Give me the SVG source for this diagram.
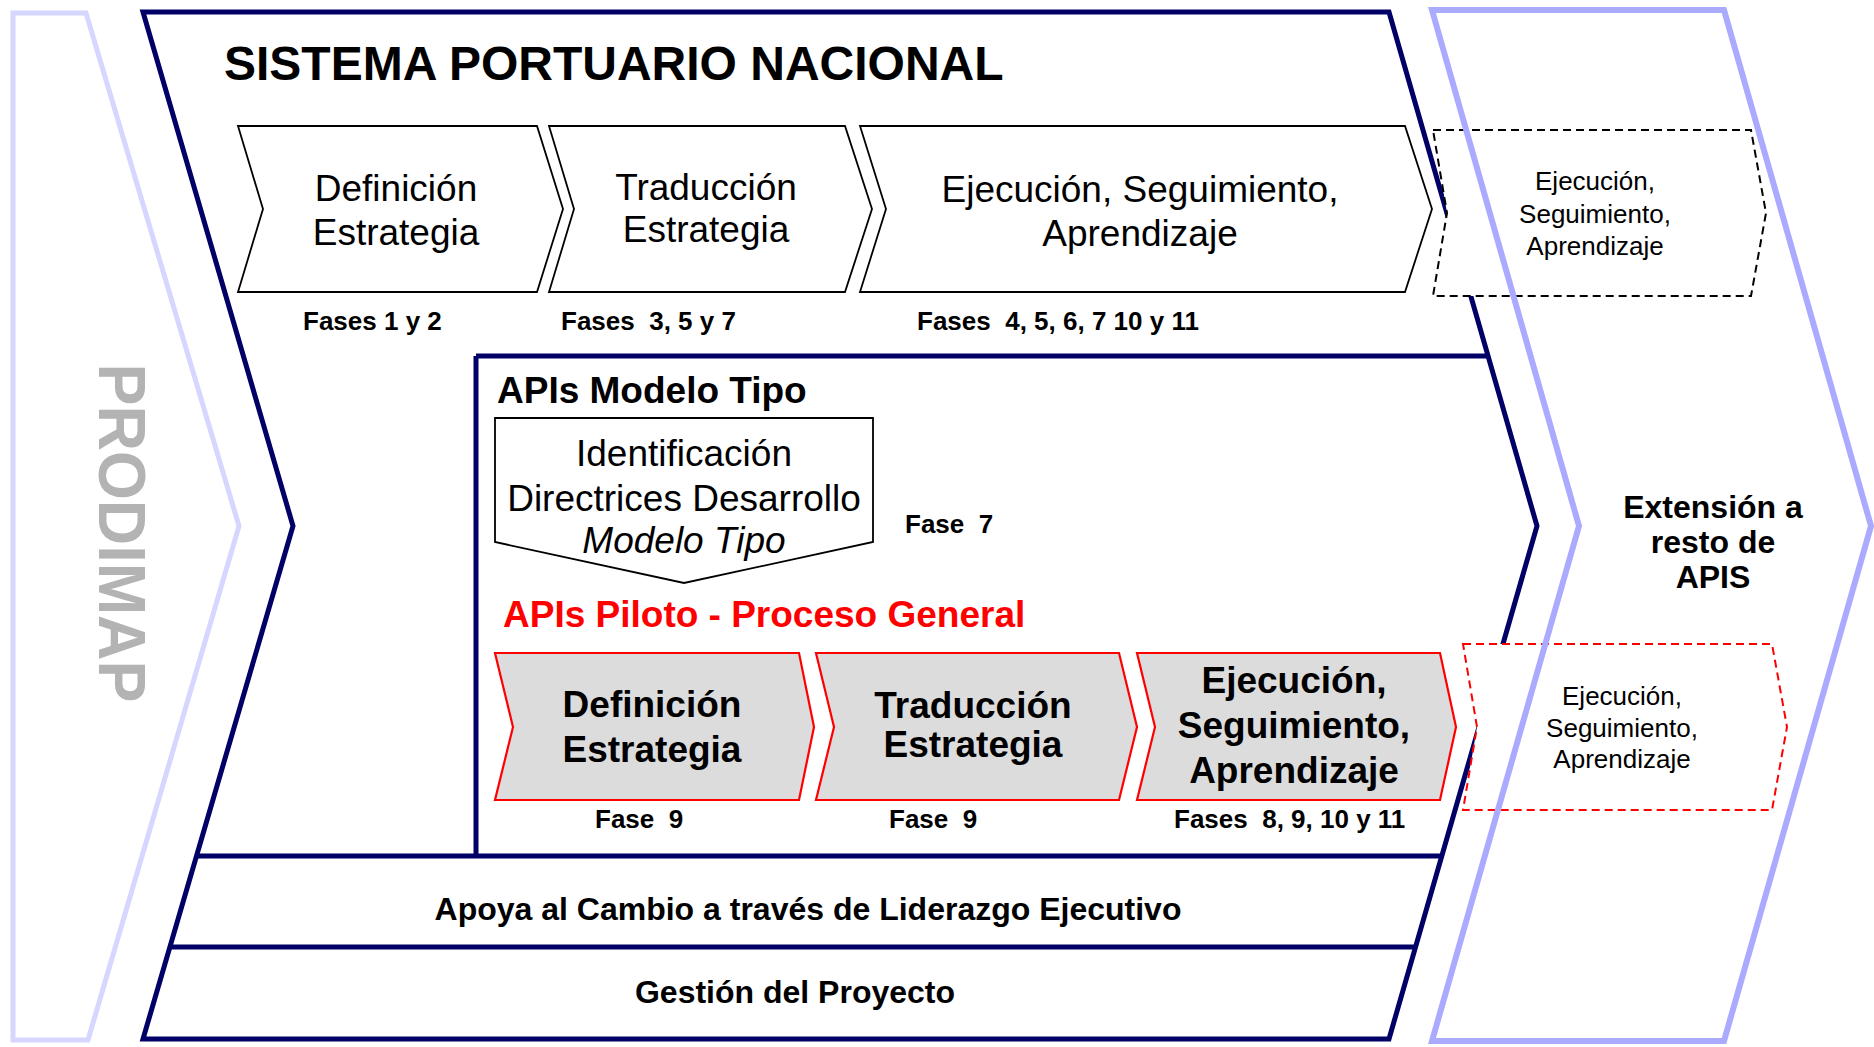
<svg xmlns="http://www.w3.org/2000/svg" width="1874" height="1047" viewBox="0 0 1874 1047">
<style>
text{font-family:"Liberation Sans",Arial,Helvetica,sans-serif;fill:#000}
.b{font-weight:bold}
.lbl{font-size:26px;font-weight:bold;white-space:pre}
.r37{font-size:37px}
.b37{font-size:37px;font-weight:bold}
.b32{font-size:32px;font-weight:bold}
.s26{font-size:26px}
.mid{text-anchor:middle}
.navy{fill:none;stroke:#000066;stroke-width:5}
.chev{fill:#fff;stroke:#000;stroke-width:1.8}
.red{fill:#dcdcdc;stroke:#ff0000;stroke-width:2.2}
.dash{fill:#fff;stroke:#000;stroke-width:2;stroke-dasharray:8 5}
.rdash{fill:#fff;stroke:#ff0000;stroke-width:2;stroke-dasharray:8 5}
</style>
<rect x="0" y="0" width="1874" height="1047" fill="#fff"/>

<g id="prodimap">
  <polygon points="13,13 86,13 239,526 88,1040 13,1040" fill="none" stroke="#d6d6ff" stroke-width="5"/>
  <text transform="translate(99,533) rotate(90)" text-anchor="middle" font-size="66" font-weight="bold" style="fill:#b3b3b3" textLength="339" lengthAdjust="spacingAndGlyphs">PRODIMAP</text>
</g>

<g id="sistema-portuario">
  <polygon class="navy" points="143,12 1389,12 1537,526 1389,1039 143,1039 293,526"/>
  <path class="navy" d="M476,356 H1488 M476,356 V856 M197,856 H1442 M170,947 H1416"/>
  <text x="224" y="80" font-size="48" class="b">SISTEMA PORTUARIO NACIONAL</text>
</g>

<g id="definicion-estrategia">
  <polygon class="chev" points="238,126 537,126 563,209 537,292 238,292 263,209"/>
  <text class="r37 mid" x="396" y="201">Definición</text>
  <text class="r37 mid" x="396" y="245">Estrategia</text>
  <text class="lbl" x="303" y="330">Fases 1 y 2</text>
</g>

<g id="traduccion-estrategia">
  <polygon class="chev" points="549,126 845,126 872,209 845,292 549,292 574,209"/>
  <text class="r37 mid" x="706" y="200">Traducción</text>
  <text class="r37 mid" x="706" y="242">Estrategia</text>
  <text class="lbl" x="561" y="330">Fases  3, 5 y 7</text>
</g>

<g id="ejecucion">
  <polygon class="chev" points="860,126 1405,126 1432,209 1405,292 860,292 886,209"/>
  <text class="r37 mid" x="1140" y="202">Ejecución, Seguimiento,</text>
  <text class="r37 mid" x="1140" y="246">Aprendizaje</text>
  <text class="lbl" x="917" y="330">Fases  4, 5, 6, 7 10 y 11</text>
</g>

<g id="apis-modelo-tipo">
  <text x="497" y="403" class="b37">APIs Modelo Tipo</text>
  <polygon class="chev" points="495,418 873,418 873,542 684,583 495,542"/>
  <text class="r37 mid" x="684" y="466">Identificación</text>
  <text class="r37 mid" x="684" y="511">Directrices Desarrollo</text>
  <text class="r37 mid" x="684" y="553" font-style="italic">Modelo Tipo</text>
  <text class="lbl" x="905" y="533">Fase  7</text>
</g>

<g id="apis-piloto">
  <text x="503" y="627" class="b37" style="fill:#ff0000">APIs Piloto - Proceso General</text>
</g>

<g id="piloto-definicion">
  <polygon class="red" points="495,653 799,653 814,727 799,800 495,800 513,727"/>
  <text class="b37 mid" x="652" y="717">Definición</text>
  <text class="b37 mid" x="652" y="762">Estrategia</text>
  <text class="lbl" x="595" y="828">Fase  9</text>
</g>

<g id="piloto-traduccion">
  <polygon class="red" points="816,653 1119,653 1137,727 1119,800 816,800 834,727"/>
  <text class="b37 mid" x="973" y="718">Traducción</text>
  <text class="b37 mid" x="973" y="757">Estrategia</text>
  <text class="lbl" x="889" y="828">Fase  9</text>
</g>

<g id="piloto-ejecucion">
  <polygon class="red" points="1137,653 1440,653 1456,727 1440,800 1137,800 1155,727"/>
  <text class="b37 mid" x="1294" y="693">Ejecución,</text>
  <text class="b37 mid" x="1294" y="738">Seguimiento,</text>
  <text class="b37 mid" x="1294" y="783">Aprendizaje</text>
  <text class="lbl" x="1174" y="828">Fases  8, 9, 10 y 11</text>
</g>

<g id="apoya-cambio">
  <text class="b32 mid" x="808" y="920">Apoya al Cambio a través de Liderazgo Ejecutivo</text>
</g>

<g id="gestion-proyecto">
  <text class="b32 mid" x="795" y="1003">Gestión del Proyecto</text>
</g>

<g id="ext-ejecucion-top">
  <polygon class="dash" points="1433,130 1751,130 1766,213 1751,296 1433,296 1447,213"/>
  <text class="s26 mid" x="1595" y="190">Ejecución,</text>
  <text class="s26 mid" x="1595" y="223">Seguimiento,</text>
  <text class="s26 mid" x="1595" y="255">Aprendizaje</text>
</g>

<g id="ext-ejecucion-piloto">
  <polygon class="rdash" points="1463,644 1772,644 1787,727 1772,810 1463,810 1477,727"/>
  <text class="s26 mid" x="1622" y="705">Ejecución,</text>
  <text class="s26 mid" x="1622" y="737">Seguimiento,</text>
  <text class="s26 mid" x="1622" y="768">Aprendizaje</text>
</g>

<g id="extension">
  <polygon points="1432,10 1724,10 1871,526 1724,1041 1432,1041 1579,526" fill="none" stroke="#aaaaff" stroke-width="6"/>
  <text class="b32 mid" x="1713" y="518">Extensión a</text>
  <text class="b32 mid" x="1713" y="553">resto de</text>
  <text class="b32 mid" x="1713" y="588">APIS</text>
</g>

<g id="connectors"/>
</svg>
